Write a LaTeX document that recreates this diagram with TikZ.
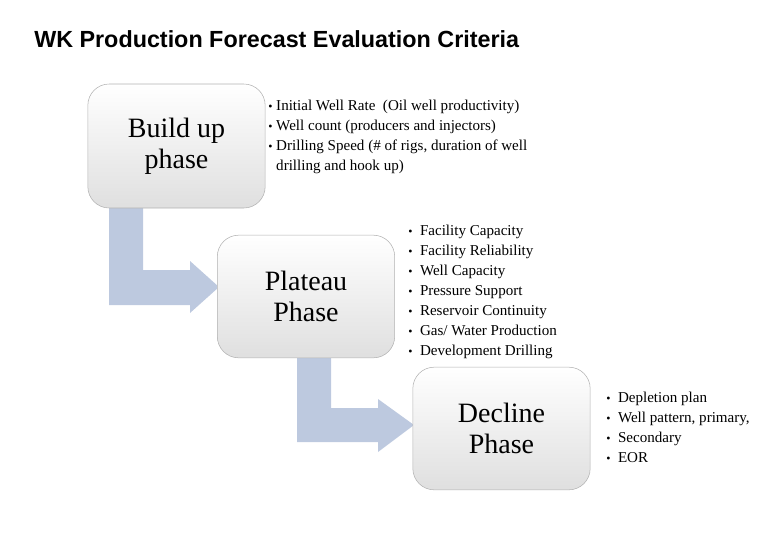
\documentclass[tikz,border=0pt]{standalone}
\usepackage{fontspec}
\setmainfont{Liberation Serif}
\newfontfamily\arialf{Liberation Sans}
\begin{document}
\begin{tikzpicture}[x=0.75pt,y=-0.75pt,
  phase/.style={draw=gray!60, rounded corners=16pt, top color=white, bottom color=gray!25, align=center, font=\fontsize{21}{23.5}\selectfont, inner sep=0pt},
  bul/.style={align=left, anchor=north west, font=\fontsize{11.3}{15}\selectfont, inner sep=0pt}]
\definecolor{arrowc}{HTML}{BDC9DF}
\useasboundingbox (0,0) rectangle (780,540);
\node[anchor=west, font=\arialf\bfseries\fontsize{17.5}{20}\selectfont, inner sep=0pt] (title) at (34,39) {WK Production Forecast Evaluation Criteria};
\fill[arrowc] (109,200) -- (143,200) -- (143,270) -- (190,270) -- (190,261) -- (219,287) -- (190,313) -- (190,305) -- (109,305) -- cycle;
\fill[arrowc] (297,350) -- (331,350) -- (331,408) -- (378,408) -- (378,399) -- (414,425) -- (378,452) -- (378,442) -- (297,442) -- cycle;
\node[phase, minimum width=133pt, minimum height=93pt] (b) at (176.5,146) {Build up\\phase};
\node[phase, minimum width=133pt, minimum height=92pt] (p) at (306,296.5) {Plateau\\Phase};
\node[phase, minimum width=133pt, minimum height=92pt] (d) at (501.5,428.5) {Decline\\Phase};
\node[bul] (t1) at (268,96) {\begin{tabular}{@{}l@{\ }l@{}}
{\small\textbullet} & Initial Well Rate\ \ (Oil well productivity)\\
{\small\textbullet} & Well count (producers and injectors)\\
{\small\textbullet} & Drilling Speed (\# of rigs, duration of well\\
 & drilling and hook up)\end{tabular}};
\node[bul] (t2) at (408,221) {\begin{tabular}{@{}l@{\ \ }l@{}}
{\small\textbullet} & Facility Capacity\\
{\small\textbullet} & Facility Reliability\\
{\small\textbullet} & Well Capacity\\
{\small\textbullet} & Pressure Support\\
{\small\textbullet} & Reservoir Continuity\\
{\small\textbullet} & Gas/ Water Production\\
{\small\textbullet} & Development Drilling\end{tabular}};
\node[bul] (t3) at (606,388) {\begin{tabular}{@{}l@{\ \ }l@{}}
{\small\textbullet} & Depletion plan\\
{\small\textbullet} & Well pattern, primary,\\
{\small\textbullet} & Secondary\\
{\small\textbullet} & EOR\end{tabular}};
\end{tikzpicture}
\end{document}
